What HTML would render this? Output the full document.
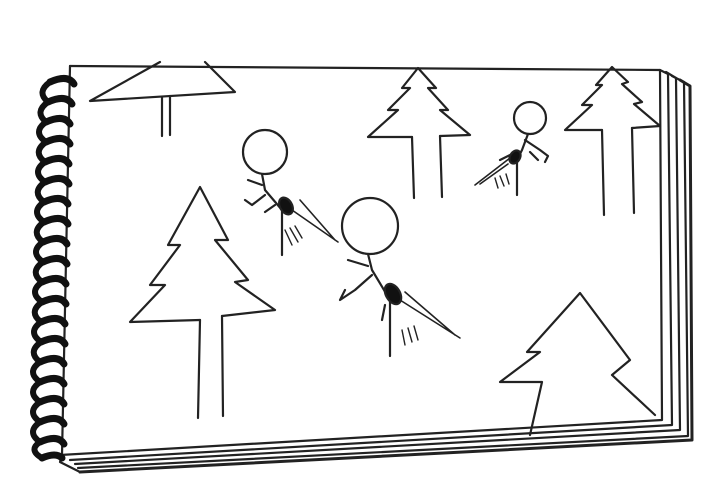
<!DOCTYPE html>
<html><head><meta charset="utf-8"><style>
html,body{margin:0;padding:0;background:#fff;}
svg{display:block}
</style></head><body>
<svg width="721" height="500" viewBox="0 0 721 500" fill="none" stroke="#222" stroke-width="2.2" stroke-linecap="round" stroke-linejoin="round">
<g>
<path d="M70 66 L660 70 L662 420 L60 455" />
<path d="M660 70 L668 74 L672 425 L70 460"/>
<path d="M666 72 L676 78 L680 430 L75 464"/>
<path d="M672 76 L684 82 L688 436 L78 468"/>
<path d="M680 80 L690 86 L692 440 L80 472" stroke-width="3"/>
<path d="M62 455 L60 462 L80 472"/>
<path d="M70 66 L62 455"/>
</g>
<g stroke="#111" stroke-width="7">
<path d="M50 82 q18 -8 24 2"/><path d="M48 102 q18 -8 24 2"/><path d="M46 122 q18 -8 24 2"/>
<path d="M46 142 q18 -8 24 2"/><path d="M45 162 q18 -8 24 2"/><path d="M45 182 q18 -8 24 2"/>
<path d="M44 202 q18 -8 24 2"/><path d="M44 222 q18 -8 24 2"/><path d="M43 242 q18 -8 24 2"/>
<path d="M43 262 q18 -8 24 2"/><path d="M42 282 q18 -8 24 2"/><path d="M42 302 q18 -8 24 2"/>
<path d="M41 322 q18 -8 24 2"/><path d="M41 342 q18 -8 24 2"/><path d="M40 362 q18 -8 24 2"/>
<path d="M40 382 q18 -8 24 2"/><path d="M40 402 q18 -8 24 2"/><path d="M40 422 q18 -8 24 2"/>
<path d="M40 442 q18 -8 24 2"/><path d="M42 458 q14 -6 20 0"/>
<path d="M50 82 q-14 10 -2 20 q-14 10 -2 20 q-14 10 0 20 q-14 10 -1 20 q-14 10 0 20 q-14 10 -1 20 q-14 10 0 20 q-14 10 -1 20 q-14 10 0 20 q-14 10 -1 20 q-14 10 0 20 q-14 10 -1 20 q-14 10 0 20 q-14 10 -1 20 q-14 10 0 20 q-14 10 0 20 q-14 10 0 20 q-14 10 0 20 q-12 8 2 16" stroke-width="6"/>
</g>
<g>
<path d="M160 62 L90 101 L235 92 L205 62"/>
<path d="M162 97 L162 136 M170 96 L170 135"/>
</g>
<g>
<path d="M412 137 L368 137 L398 110 L388 110 L410 88 L402 88 L418 68 L436 88 L428 88 L448 110 L440 110 L470 135 L440 136"/>
<path d="M412 137 L414 198 M440 136 L442 197"/>
</g>
<g>
<path d="M602 130 L565 130 L592 105 L582 105 L602 85 L596 85 L612 67 L628 82 L622 84 L642 102 L634 104 L660 126 L632 128"/>
<path d="M602 130 L604 215 M632 128 L634 213"/>
</g>
<g>
<path d="M200 320 L130 322 L165 285 L150 285 L180 245 L168 245 L200 187 L228 240 L215 240 L248 280 L235 282 L275 310 L222 316"/>
<path d="M200 320 L198 418 M222 316 L223 416"/>
</g>
<g>
<path d="M530 435 L542 382 L500 382 L540 352 L527 352 L580 293 L630 360 L612 375 L655 415"/>
</g>
<g>
<circle cx="265" cy="152" r="22"/>
<path d="M262 174 L265 190 L282 210 L282 255"/>
<path d="M248 180 L262 185 M265 195 L252 205 L245 200 M275 205 L265 212"/>
<path d="M292 210 L338 242 M300 200 L335 240" stroke-width="1.6"/>
<path d="M285 230 L292 245 M290 228 L298 242 M295 226 L302 238" stroke-width="1.4"/>
<ellipse cx="286" cy="206" rx="6" ry="9" fill="#111" transform="rotate(-30 286 206)"/>
</g>
<g>
<circle cx="370" cy="226" r="28"/>
<path d="M368 254 L372 270 L390 300 L390 356"/>
<path d="M348 260 L368 266 M372 275 L355 290 L340 300 L345 290 M385 305 L382 320"/>
<path d="M400 300 L460 338 M405 292 L455 335" stroke-width="1.6"/>
<path d="M402 330 L405 345 M408 328 L412 342 M414 326 L418 340" stroke-width="1.4"/>
<ellipse cx="393" cy="294" rx="7" ry="11" fill="#111" transform="rotate(-30 393 294)"/>
</g>
<g>
<circle cx="530" cy="118" r="16"/>
<path d="M528 134 L522 150 L517 160 L517 195"/>
<path d="M525 140 L540 150 L548 156 L545 162 M530 152 L538 160 M510 155 L500 160"/>
<path d="M510 158 L475 185 M508 164 L480 184" stroke-width="1.6"/>
<path d="M495 178 L498 188 M500 176 L504 186 M506 174 L509 184" stroke-width="1.4"/>
<ellipse cx="515" cy="157" rx="5" ry="7" fill="#111" transform="rotate(30 515 157)"/>
</g>
</svg>
</body></html>
